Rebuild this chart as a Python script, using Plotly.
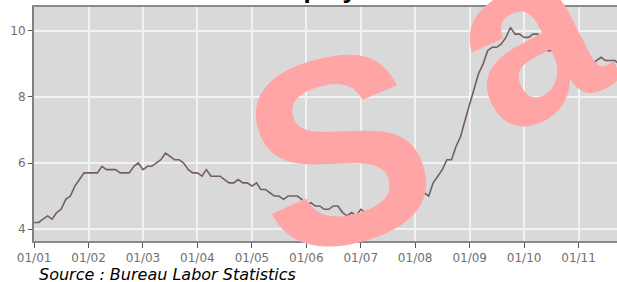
import plotly.graph_objects as go
import pandas as pd

# Monthly US unemployment rate (%), Jan 2001 onward
rate_2001 = [4.2, 4.2, 4.3, 4.4, 4.3, 4.5, 4.6, 4.9, 5.0, 5.3, 5.5, 5.7]
rate_2002 = [5.7, 5.7, 5.7, 5.9, 5.8, 5.8, 5.8, 5.7, 5.7, 5.7, 5.9, 6.0]
rate_2003 = [5.8, 5.9, 5.9, 6.0, 6.1, 6.3, 6.2, 6.1, 6.1, 6.0, 5.8, 5.7]
rate_2004 = [5.7, 5.6, 5.8, 5.6, 5.6, 5.6, 5.5, 5.4, 5.4, 5.5, 5.4, 5.4]
rate_2005 = [5.3, 5.4, 5.2, 5.2, 5.1, 5.0, 5.0, 4.9, 5.0, 5.0, 5.0, 4.9]
rate_2006 = [4.7, 4.8, 4.7, 4.7, 4.6, 4.6, 4.7, 4.7, 4.5, 4.4, 4.5, 4.4]
rate_2007 = [4.6, 4.5, 4.4, 4.5, 4.4, 4.6, 4.7, 4.6, 4.7, 4.7, 4.7, 5.0]
rate_2008 = [5.0, 4.9, 5.1, 5.0, 5.4, 5.6, 5.8, 6.1, 6.1, 6.5, 6.8, 7.3]
rate_2009 = [7.8, 8.3, 8.7, 9.0, 9.4, 9.5, 9.5, 9.6, 9.8, 10.1, 9.9, 9.9]
rate_2010 = [9.8, 9.8, 9.9, 9.9, 9.6, 9.4, 9.4, 9.5, 9.5, 9.4, 9.8, 9.3]
rate_2011 = [9.1, 9.0, 8.9, 9.0, 9.1, 9.2, 9.1, 9.1, 9.1, 9.0]

rates = (rate_2001 + rate_2002 + rate_2003 + rate_2004 + rate_2005 + rate_2006
         + rate_2007 + rate_2008 + rate_2009 + rate_2010 + rate_2011)
dates = pd.date_range("2001-01-01", periods=len(rates), freq="MS")

x_tick_vals = [f"{y}-01-01" for y in range(2001, 2012)]
x_tick_text = ["01/01", "01/02", "01/03", "01/04", "01/05", "01/06",
               "01/07", "01/08", "01/09", "01/10", "01/11"]
y_tick_vals = [4, 6, 8, 10]

title_text = "US Unemployment Rate"
source_text = "Source : Bureau Labor Statistics"
watermark_1 = "S"
watermark_2 = "a"

fig = go.Figure()
fig.add_trace(go.Scatter(
    x=dates, y=rates, mode="lines",
    line=dict(color="#735f62", width=1.6),
    hoverinfo="skip", showlegend=False,
))

axis_font = dict(family="DejaVu Sans", size=12, color="#707070")

fig.update_layout(
    width=617, height=282,
    margin=dict(l=34, r=0, t=7, b=41),
    paper_bgcolor="white",
    plot_bgcolor="#d9d9d9",
    showlegend=False,
    xaxis=dict(
        type="date", automargin=False,
        range=["2000-12-31", "2011-09-16"],
        tickmode="array", tickvals=x_tick_vals, ticktext=x_tick_text,
        ticks="outside", ticklen=5, tickwidth=1, tickcolor="#555555",
        tickfont=axis_font,
        showgrid=True, gridcolor="#f2f2f2", gridwidth=2,
        showline=True, linecolor="#8a8a8a", linewidth=2, mirror=True,
        zeroline=False,
    ),
    yaxis=dict(
        automargin=False,
        range=[3.64, 10.72],
        tickmode="array", tickvals=y_tick_vals,
        ticktext=[str(v) for v in y_tick_vals],
        ticks="outside", ticklen=4, tickwidth=1, tickcolor="#555555",
        tickfont=axis_font,
        showgrid=True, gridcolor="#f2f2f2", gridwidth=2,
        showline=True, linecolor="#808080", linewidth=2,
        zeroline=False,
    ),
)

fig.add_annotation(
    text=f"<b>{title_text}</b>", xref="paper", yref="paper",
    x=0.518, y=1.006, xanchor="center", yanchor="bottom", showarrow=False,
    font=dict(family="Liberation Sans", size=26, color="black"),
)
fig.add_annotation(
    text=f"<i>{source_text}</i>", xref="paper", yref="paper",
    x=0.005, y=-0.145, xanchor="left", yanchor="middle", showarrow=False,
    font=dict(family="DejaVu Sans", size=16, color="black"),
)
fig.add_annotation(
    text=f"<b>{watermark_1}</b>", xref="paper", yref="paper",
    x=0.522, y=0.389, xanchor="center", yanchor="middle", showarrow=False,
    textangle=-15,
    font=dict(family="Liberation Sans Narrow, Liberation Sans", size=265,
              color="#ffa5a5"),
)
fig.add_annotation(
    text=f"<b>{watermark_2}</b>", xref="paper", yref="paper",
    x=0.842, y=0.88, xanchor="center", yanchor="middle", showarrow=False,
    textangle=-27,
    font=dict(family="Liberation Sans", size=240, color="#ffa5a5"),
)

fig.write_html(
    "out.html",
    config={"displayModeBar": False},
    post_script="document.body.style.margin='0';document.body.style.overflow='hidden';",
)
